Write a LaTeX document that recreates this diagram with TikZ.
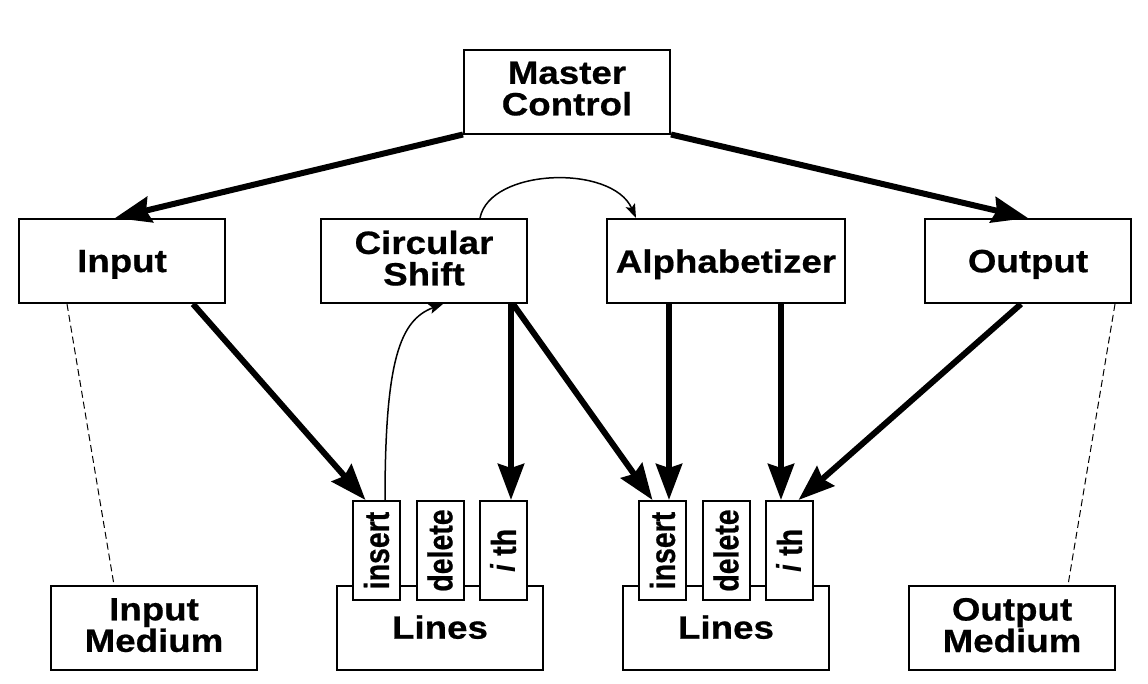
\documentclass[tikz,border=0pt]{standalone}
\usepackage{fontspec}
\setmainfont{Liberation Sans}[FakeStretch=1.14, BoldFeatures={FakeBold=0.6}]
\newfontfamily\opfont{Liberation Sans}[FakeStretch=0.82, BoldFeatures={FakeBold=0.6}]
\usetikzlibrary{arrows.meta}
\begin{document}
\begin{tikzpicture}[x=1pt,y=-1pt,
  boxfont/.style={font=\fontsize{32.2}{31.5}\selectfont\bfseries},
  box/.style={draw, line width=2pt, fill=white, inner sep=0pt,
    minimum width=206pt, minimum height=84pt, align=center,
    boxfont, text depth=0pt},
  twoline/.style={text depth=6pt},
  op/.style={draw, line width=2pt, fill=white, inner sep=0pt,
    minimum width=47pt, minimum height=99pt},
  oplabel/.style={rotate=90, inner sep=0pt,
    font=\opfont\fontsize{34.7}{36}\selectfont\bfseries},
  flow/.style={line width=6pt, -{Stealth[length=36pt,width=26pt,inset=4pt]}},
  call/.style={line width=1.5pt, -{Stealth[length=14pt,width=10pt,inset=3pt]}},
  link/.style={line width=1pt, dash pattern=on 7pt off 4pt}]
\useasboundingbox (0,0) rectangle (1148,683);

% modules
\node[box, twoline] (master) at (567,91.5) {Master\\Control};
\node[box] (input) at (122,261) {Input};
\node[box, twoline] (cs) at (424,261) {Circular\\Shift};
\node[box, minimum width=238pt] (alph) at (726,261) {Alphabetizer};
\node[box] (output) at (1028,261) {Output};

% media and line storage
\node[box, twoline] (inmed) at (154,628) {Input\\Medium};
\node[box] (lines1) at (440,628) {};
\node[box] (lines2) at (726,628) {};
\node[box, twoline] (outmed) at (1012,628) {Output\\Medium};
\node[boxfont, text depth=0pt, inner sep=0pt] (l1) at (440,627) {Lines};
\node[boxfont, text depth=0pt, inner sep=0pt] (l2) at (726,627) {Lines};

% access operations
\node[op] (ins1) at (376.5,550.5) {};
\node[op] (del1) at (440,550.5) {};
\node[op] (ith1) at (503.5,550.5) {};
\node[op] (ins2) at (662.5,550.5) {};
\node[op] (del2) at (726,550.5) {};
\node[op] (ith2) at (789.5,550.5) {};
\foreach \n in {1,2} {
  \node[oplabel] at (ins\n) {insert};
  \node[oplabel] at (del\n) {delete};
  \node[oplabel] at (ith\n) {\textit{i} th};
}

% control flow
\draw[flow] (master.south west) -- ([xshift=-7pt]input.north);
\draw[flow] (master.south east) -- (output.north);
\draw[flow] ([xshift=71pt]input.south) -- ([xshift=-11pt]ins1.north);
\draw[flow] ([xshift=87pt]cs.south) coordinate (a) -- (a |- ith1.north);
\draw[flow] ([xshift=89pt]cs.south) -- ([xshift=-10pt]ins2.north);
\draw[flow] ([xshift=-57pt]alph.south) coordinate (b) -- (b |- ins2.north);
\draw[flow] ([xshift=55pt]alph.south) coordinate (c) -- (c |- ith2.north);
\draw[flow] ([xshift=-7pt]output.south) -- ([xshift=9pt]ith2.north);

% calls
\draw[call] ([xshift=8.5pt]ins1.north) .. controls (385,360) and (400,320) .. ([xshift=19pt]cs.south);
\draw[call] ([xshift=56pt]cs.north) .. controls (490,168) and (612,164) .. ([xshift=-90pt]alph.north);

% media links
\draw[link] ([xshift=-55pt]input.south) -- ([xshift=-40pt]inmed.north);
\draw[link] ([xshift=87pt]output.south) -- ([xshift=56pt]outmed.north);
\end{tikzpicture}
\end{document}
